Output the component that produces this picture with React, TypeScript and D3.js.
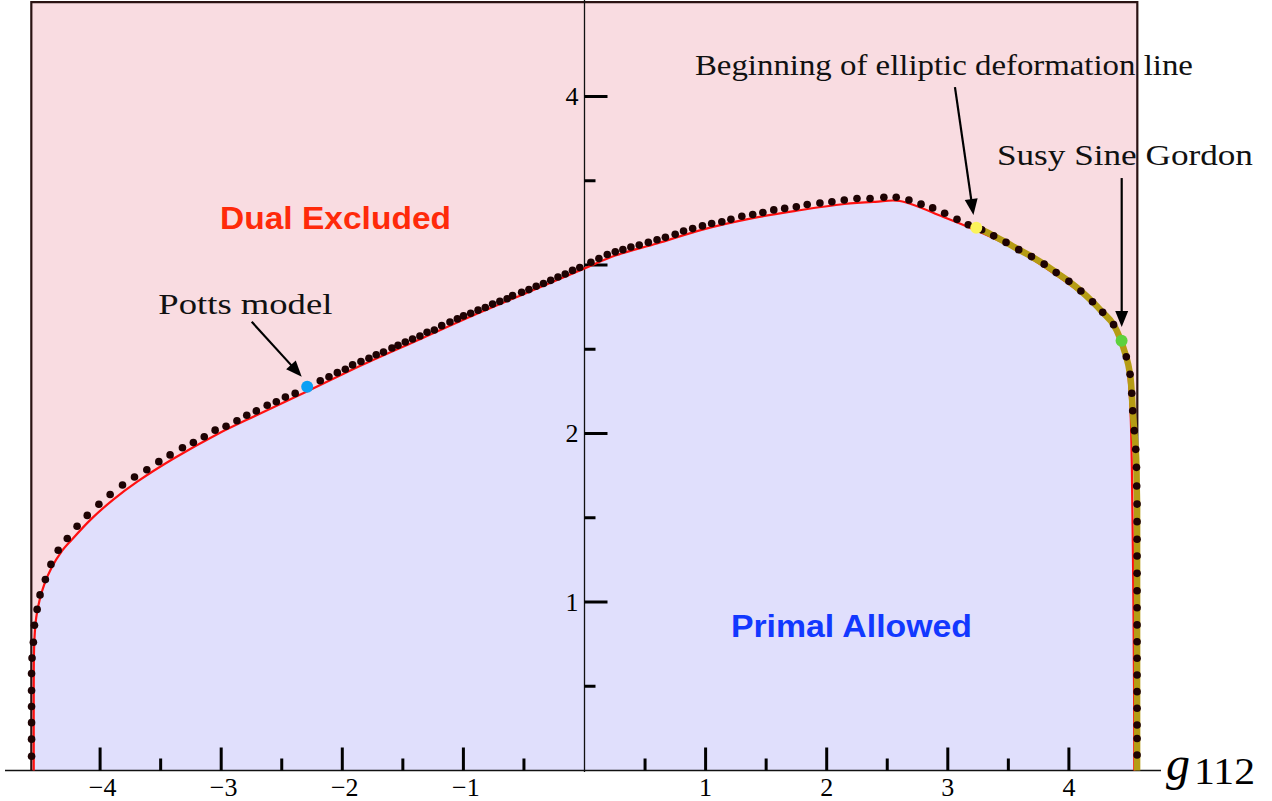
import React from 'react';
import * as d3 from 'd3';

// ---------- data ----------
// Primal boundary (red line), [g112, value]
const boundary: [number, number][] = [
  [-4.548, 0], [-4.548, 0.5], [-4.546, 0.7], [-4.539, 0.82], [-4.527, 0.91],
  [-4.500, 1.010], [-4.458, 1.110], [-4.400, 1.205], [-4.320, 1.298], [-4.236, 1.368],
  [-4.074, 1.492], [-3.889, 1.609],
  [-3.693, 1.714], [-3.403, 1.847], [-3.033, 1.996], [-2.695, 2.113], [-2.275, 2.255],
  [-1.833, 2.408], [-1.348, 2.563], [-0.869, 2.716], [-0.390, 2.861], [0.000, 2.980],
  [0.254, 3.056], [0.599, 3.128], [0.974, 3.210], [1.389, 3.278], [1.749, 3.322],
  [2.145, 3.362], [2.400, 3.375], [2.604, 3.380], [2.964, 3.285], [3.235, 3.205],
  [3.565, 3.092], [3.865, 2.955], [4.165, 2.795], [4.345, 2.660], [4.435, 2.545],
  [4.480, 2.410], [4.505, 2.200], [4.520, 1.800], [4.530, 1.200], [4.538, 0.500],
  [4.540, 0],
];

// Dual bound (black dots)
const dualDots: [number, number][] = [
  [-4.566, 0.085], [-4.566, 0.186], [-4.566, 0.284], [-4.566, 0.380], [-4.566, 0.475],
  [-4.566, 0.575], [-4.562, 0.667], [-4.551, 0.761], [-4.542, 0.862], [-4.520, 0.956],
  [-4.496, 1.042], [-4.452, 1.133], [-4.406, 1.223], [-4.346, 1.307], [-4.271, 1.377],
  [-4.190, 1.450], [-4.106, 1.514], [-4.010, 1.580], [-3.917, 1.638], [-3.815, 1.694],
  [-3.716, 1.742], [-3.614, 1.785], [-3.515, 1.833], [-3.422, 1.873], [-3.320, 1.915],
  [-3.230, 1.947], [-3.140, 1.981], [-3.050, 2.020], [-2.960, 2.043], [-2.870, 2.076],
  [-2.789, 2.108], [-2.710, 2.134], [-2.620, 2.168], [-2.545, 2.188], [-2.470, 2.216],
  [-2.389, 2.238], [-2.182, 2.313], [-2.110, 2.337], [-2.041, 2.361], [-1.975, 2.381],
  [-1.915, 2.407], [-1.846, 2.427], [-1.780, 2.447], [-1.720, 2.467], [-1.660, 2.483],
  [-1.590, 2.507], [-1.540, 2.523], [-1.480, 2.543], [-1.420, 2.561], [-1.359, 2.579],
  [-1.300, 2.601], [-1.240, 2.614], [-1.179, 2.640], [-1.111, 2.662], [-1.050, 2.680],
  [-0.999, 2.698], [-0.940, 2.714], [-0.879, 2.732], [-0.819, 2.748], [-0.759, 2.768],
  [-0.699, 2.784], [-0.639, 2.800], [-0.594, 2.818], [-0.519, 2.838], [-0.459, 2.854],
  [-0.399, 2.874], [-0.339, 2.890], [-0.279, 2.909], [-0.219, 2.929], [-0.159, 2.947],
  [-0.099, 2.968], [-0.039, 2.985], [0.053, 3.016], [0.119, 3.039], [0.188, 3.062],
  [0.254, 3.078], [0.317, 3.091], [0.383, 3.107], [0.452, 3.118], [0.527, 3.134],
  [0.599, 3.150], [0.668, 3.164], [0.749, 3.182], [0.818, 3.202], [0.893, 3.216],
  [0.974, 3.232], [1.050, 3.246], [1.134, 3.257], [1.209, 3.271], [1.299, 3.289],
  [1.389, 3.300], [1.473, 3.312], [1.563, 3.327], [1.653, 3.336], [1.749, 3.345],
  [1.839, 3.359], [1.944, 3.368], [2.043, 3.375], [2.145, 3.386], [2.250, 3.395],
  [2.358, 3.395], [2.472, 3.402], [2.574, 3.402], [2.679, 3.386], [2.779, 3.361],
  [2.875, 3.339], [2.974, 3.307], [3.076, 3.271], [3.169, 3.239], [3.280, 3.209],
  [3.379, 3.173], [3.481, 3.134], [3.586, 3.091], [3.691, 3.050], [3.796, 3.005],
  [3.895, 2.955], [4.000, 2.903], [4.099, 2.846], [4.195, 2.782], [4.279, 2.719],
  [4.369, 2.646], [4.474, 2.455], [4.505, 2.351], [4.519, 2.239], [4.527, 2.135],
  [4.540, 2.017], [4.552, 1.906], [4.558, 1.799], [4.560, 1.688], [4.563, 1.581],
  [4.563, 1.477], [4.563, 1.372], [4.563, 1.273], [4.563, 1.170], [4.563, 1.067],
  [4.563, 0.966], [4.563, 0.864], [4.563, 0.764], [4.563, 0.666], [4.563, 0.567],
  [4.563, 0.468], [4.563, 0.369], [4.563, 0.270], [4.563, 0.190], [4.563, 0.092],
];

// Special points
const pottsPoint: [number, number] = [-2.290, 2.278];
const ellipticStart: [number, number] = [3.235, 3.221];
const susyPoint: [number, number] = [4.435, 2.551];
const ellipticEnd: [number, number] = [4.563, 0];

const xMajorTicks = [-4, -3, -2, -1, 1, 2, 3, 4];
const xMinorTicks = [-3.5, -2.5, -1.5, -0.5, 0.5, 1.5, 2.5, 3.5];
const yMajorTicks = [1, 2, 3, 4];
const yMinorTicks = [0.5, 1.5, 2.5, 3.5];
const yLabelTicks = [1, 2, 4];

// ---------- layout ----------
const W = 1272;
const H = 801;

export default function App() {
  const x = d3.scaleLinear().domain([-4, 4]).range([100.1, 1068.9]);
  const y = d3.scaleLinear().domain([0, 4]).range([770.5, 96.5]);

  const smooth = d3
    .line<[number, number]>()
    .x(d => x(d[0]))
    .y(d => y(d[1]))
    .curve(d3.curveCatmullRom.alpha(0.5));

  const redPath = smooth(boundary) || '';
  const regionPath = redPath + 'Z';

  const elliptic: [number, number][] = [
    ellipticStart,
    ...dualDots.filter(d => d[0] > ellipticStart[0]),
    ellipticEnd,
  ];
  const ellipticPath = smooth(elliptic) || '';

  const fx0 = x(-4.568);
  const fx1 = x(4.565);
  const fy0 = y(4.56);
  const fy1 = y(0);

  const arrow = (from: [number, number], to: [number, number], key: string) => {
    const x1 = x(from[0]), y1 = y(from[1]);
    const x2 = x(to[0]), y2 = y(to[1]);
    const ang = Math.atan2(y2 - y1, x2 - x1);
    const L = 16, hw = 6.5;
    const bx = x2 - L * Math.cos(ang), by = y2 - L * Math.sin(ang);
    const px = -Math.sin(ang), py = Math.cos(ang);
    const head = `M${x2},${y2}L${bx + hw * px},${by + hw * py}L${bx - hw * px},${by - hw * py}Z`;
    return (
      <g key={key}>
        <line x1={x1} y1={y1} x2={bx + Math.cos(ang)} y2={by + Math.sin(ang)} stroke="#000" strokeWidth={2.2} />
        <path d={head} fill="#000" />
      </g>
    );
  };

  const serif = "'Liberation Serif', 'Times New Roman', serif";
  const sans = "'Liberation Sans', Arial, Helvetica, sans-serif";

  return (
    <svg
      width={W}
      height={H}
      style={{ position: 'absolute', left: 0, top: 0, background: '#fff' }}
    >
      {/* excluded (pink) background */}
      <rect x={fx0} y={fy0} width={fx1 - fx0} height={fy1 - fy0} fill="#f9dce1" />
      {/* allowed region */}
      <path d={regionPath} fill="#e0dffc" />

      {/* frame */}
      <path
        d={`M${fx0},${fy1}L${fx0},${fy0}L${fx1},${fy0}L${fx1},${fy1}`}
        fill="none"
        stroke="#2a1212"
        strokeWidth={2.2}
      />

      {/* axes */}
      <line x1={5} x2={1161} y1={y(0)} y2={y(0)} stroke="#111" strokeWidth={1.3} />
      <line x1={x(0)} x2={x(0)} y1={0} y2={y(0) + 1.5} stroke="#111" strokeWidth={1.3} />

      {xMajorTicks.map(t => (
        <line key={'xM' + t} x1={x(t)} x2={x(t)} y1={y(0)} y2={y(0) - 23} stroke="#000" strokeWidth={3} />
      ))}
      {xMinorTicks.map(t => (
        <line key={'xm' + t} x1={x(t)} x2={x(t)} y1={y(0)} y2={y(0) - 12} stroke="#000" strokeWidth={3} />
      ))}
      {yMajorTicks.map(t => (
        <line key={'yM' + t} x1={x(0)} x2={x(0) + 23} y1={y(t)} y2={y(t)} stroke="#000" strokeWidth={3} />
      ))}
      {yMinorTicks.map(t => (
        <line key={'ym' + t} x1={x(0)} x2={x(0) + 11} y1={y(t)} y2={y(t)} stroke="#000" strokeWidth={3} />
      ))}

      {xMajorTicks.map(t => (
        <text
          key={'xl' + t}
          x={x(t) + (t < 0 ? 2.5 : 0)}
          y={y(0) + 25}
          textAnchor="middle"
          fontFamily={serif}
          fontSize={26}
          fill="#000"
        >
          {t < 0 ? '\u2212' + Math.abs(t) : String(t)}
        </text>
      ))}
      {yLabelTicks.map(t => (
        <text
          key={'yl' + t}
          x={x(0) - 6}
          y={y(t) + 8.5}
          textAnchor="end"
          fontFamily={serif}
          fontSize={26}
          fill="#000"
        >
          {t}
        </text>
      ))}

      {/* axis label */}
      <text x={1166} y={780} fontFamily={serif} fontStyle="italic" fontSize={48} fill="#000">
        g
      </text>
      <text
        x={1194}
        y={784}
        fontFamily={serif}
        fontSize={37}
        fill="#000"
        textLength={61}
        lengthAdjust="spacingAndGlyphs"
      >
        112
      </text>

      {/* primal boundary */}
      <path d={redPath} fill="none" stroke="#ff1010" strokeWidth={2.2} />
      {/* elliptic deformation line */}
      <path d={ellipticPath} fill="none" stroke="#b59c14" strokeWidth={6.5} strokeLinejoin="round" />

      {/* dual dots */}
      {dualDots.map((d, i) => (
        <circle key={'d' + i} cx={x(d[0])} cy={y(d[1])} r={3.8} fill="#1e0303" />
      ))}

      {/* special points */}
      <circle cx={x(pottsPoint[0])} cy={y(pottsPoint[1])} r={6} fill="#0aa0f5" />
      <circle cx={x(ellipticStart[0])} cy={y(ellipticStart[1])} r={6} fill="#fbf35a" />
      <circle cx={x(susyPoint[0])} cy={y(susyPoint[1])} r={6} fill="#5ed13e" />

      {/* region labels */}
      <text
        x={x(-2.056)}
        y={y(3.214)}
        textAnchor="middle"
        fontFamily={sans}
        fontWeight="bold"
        fontSize={31}
        fill="#ff2a0a"
        textLength={231}
        lengthAdjust="spacingAndGlyphs"
      >
        Dual Excluded
      </text>
      <text
        x={x(2.204)}
        y={y(0.792)}
        textAnchor="middle"
        fontFamily={sans}
        fontWeight="bold"
        fontSize={31}
        fill="#1238ff"
        textLength={241}
        lengthAdjust="spacingAndGlyphs"
      >
        Primal Allowed
      </text>

      {/* annotations */}
      <text
        x={x(-3.519)}
        y={y(2.707)}
        fontFamily={serif}
        fontSize={30}
        fill="#111"
        textLength={174}
        lengthAdjust="spacingAndGlyphs"
      >
        Potts model
      </text>
      {arrow([-2.748, 2.663], [-2.335, 2.337], 'a1')}

      <text
        x={x(0.912)}
        y={y(4.128)}
        fontFamily={serif}
        fontSize={30}
        fill="#111"
        textLength={498}
        lengthAdjust="spacingAndGlyphs"
      >
        Beginning of elliptic deformation line
      </text>
      {arrow([3.059, 4.056], [3.212, 3.297], 'a2')}

      <text
        x={x(3.406)}
        y={y(3.593)}
        fontFamily={serif}
        fontSize={30}
        fill="#111"
        textLength={256}
        lengthAdjust="spacingAndGlyphs"
      >
        Susy Sine Gordon
      </text>
      {arrow([4.436, 3.516], [4.436, 2.632], 'a3')}
    </svg>
  );
}
